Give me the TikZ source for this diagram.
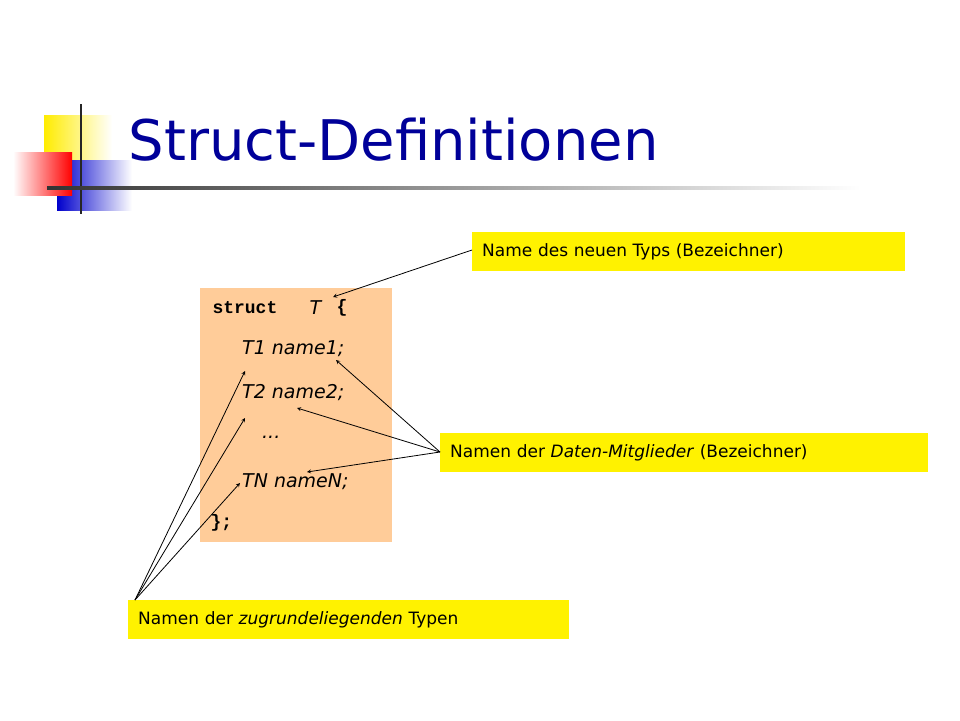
\documentclass[tikz,border=0pt]{standalone}
\usepackage{fontspec}
\setmainfont{DejaVu Sans}
\setmonofont{Liberation Mono}
\usetikzlibrary{fadings}
\begin{document}
\begin{tikzpicture}[x=1pt,y=-1pt,
  lab/.style={fill=yellow,inner sep=0pt,anchor=north west,font=\fontsize{17}{20}\selectfont},
  arr/.style={-stealth,thick}]
\useasboundingbox (0,0) rectangle (960,720);
% logo
\fill[left color=yellow!85!orange,right color=white] (44,115) rectangle (112,160);
\fill[blue!75!black!90,right color=white,left color=blue!80!black] (57,160) rectangle (132,210);
\fill[left color=white,right color=red] (13,152) rectangle (72,195);
\draw[line width=2.5pt,black!85] (81,104) -- (81,214);
\shade[left color=black!80,right color=white] (47,186.5) rectangle (860,189.5);
\node[anchor=west,text=blue!60!black,font=\fontsize{56}{60}\selectfont] (title) at (125,140) {Struct-Definitionen};
% code box
\fill[orange!40!white,fill=orange!40] (200,288) rectangle (392,542);
\node[anchor=west,font=\ttfamily\bfseries\fontsize{18}{20}\selectfont] (s) at (209,308) {struct};
\node[anchor=west,font=\itshape\fontsize{19}{20}\selectfont] (T) at (306,308) {T};
\node[anchor=west,font=\ttfamily\bfseries\fontsize{18}{20}\selectfont] (br) at (333,308) {\{};
\node[anchor=west,font=\itshape\fontsize{19}{20}\selectfont,inner sep=0pt] (l1) at (242,349) {T1 name1;};
\node[anchor=west,font=\itshape\fontsize{19}{20}\selectfont,inner sep=0pt] (l2) at (242,393) {T2 name2;};
\node[anchor=west,font=\itshape\fontsize{19}{20}\selectfont,inner sep=0pt] (l3) at (262,437) {...};
\node[anchor=west,font=\itshape\fontsize{19}{20}\selectfont,inner sep=0pt] (l4) at (242,482) {TN nameN;};
\node[anchor=west,font=\ttfamily\bfseries\fontsize{18}{20}\selectfont] (e) at (207,523) {\};};
% labels
\node[lab,minimum width=423,minimum height=39,text width=413,align=left,inner xsep=10pt] (a) at (472,232) {Name des neuen Typs (Bezeichner)};
\node[lab,minimum width=478,minimum height=39,text width=468,align=left,inner xsep=10pt] (b) at (440,433) {Namen der \textit{Daten-Mitglieder} (Bezeichner)};
\node[lab,minimum width=431,minimum height=39,text width=421,align=left,inner xsep=10pt] (c) at (128,600) {Namen der \textit{zugrundeliegenden} Typen};
\coordinate (pa) at (472,250);
\coordinate (pb) at (440,452);
\coordinate (pc) at (135,600);
\coordinate (t1) at (333,297);
\coordinate (n1) at (336,360);
\coordinate (n2) at (297,408);
\coordinate (n4) at (307,472);
\coordinate (y1) at (245,371);
\coordinate (y2) at (245,418);
\coordinate (y4) at (240,483);
\draw[arr] (pa) -- (t1);
\draw[arr] (pb) -- (n1);
\draw[arr] (pb) -- (n2);
\draw[arr] (pb) -- (n4);
\draw[arr] (pc) -- (y1);
\draw[arr] (pc) -- (y2);
\draw[arr] (pc) -- (y4);
\end{tikzpicture}
\end{document}
